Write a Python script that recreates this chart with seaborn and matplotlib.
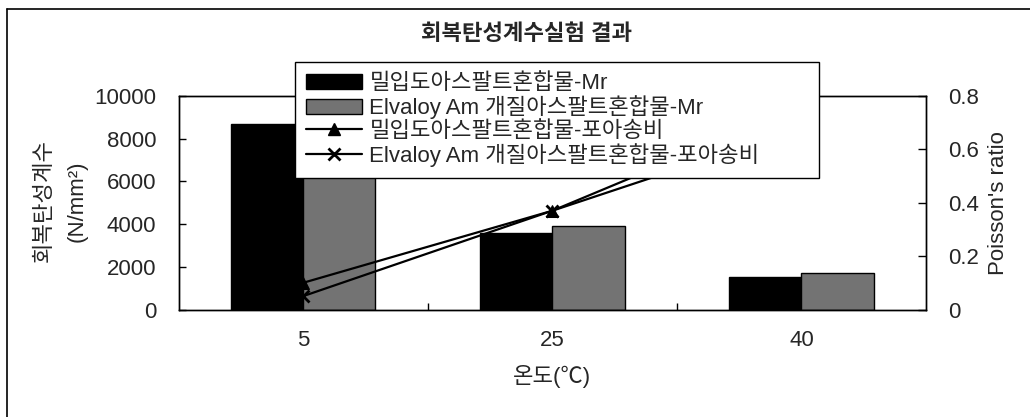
import numpy as np
import pandas as pd
import matplotlib
matplotlib.use("Agg")
import matplotlib.pyplot as plt
from matplotlib.patches import Patch
from matplotlib.lines import Line2D
import seaborn as sns

# ---- data ----
temps = ["5", "25", "40"]
mr_dense = [8700, 3600, 1500]          # 밀입도아스팔트혼합물 resilient modulus (N/mm²)
mr_elvaloy = [9400, 3900, 1700]        # Elvaloy Am 개질아스팔트혼합물 resilient modulus
pr_dense = [0.10, 0.37, 0.68]          # 밀입도 Poisson's ratio
pr_elvaloy = [0.05, 0.37, 0.76]        # Elvaloy Poisson's ratio

series_names = [
    "밀입도아스팔트혼합물-Mr",
    "Elvaloy Am 개질아스팔트혼합물-Mr",
    "밀입도아스팔트혼합물-포아송비",
    "Elvaloy Am 개질아스팔트혼합물-포아송비",
]
left_ticks = [0, 2000, 4000, 6000, 8000, 10000]
left_tick_labels = ["0", "2000", "4000", "6000", "8000", "10000"]
right_ticks = [0, 0.2, 0.4, 0.6, 0.8]
right_tick_labels = ["0", "0.2", "0.4", "0.6", "0.8"]

title = "회복탄성계수실험 결과"
xlabel = "온도(℃)"
ylabel_left = "회복탄성계수\n(N/mm²)"
ylabel_right = "Poisson's ratio"

# ---- style ----
sns.set_style("white")
plt.rcParams["font.family"] = ["Liberation Sans", "Noto Sans CJK KR"]

BLACK = "#000000"
GRAY = "#737373"
W, H = 1030, 417
FS = 16

fig = plt.figure(figsize=(W / 100, H / 100), dpi=100)
fig.patch.set_facecolor("white")

# plot area in pixel coordinates
x0, x1 = 178.5, 926.0
y_top, y_bot = 96.0, 309.5
ax = fig.add_axes([x0 / W, 1 - y_bot / H, (x1 - x0) / W, (y_bot - y_top) / H])

df = pd.DataFrame({
    "temp": temps * 2,
    "mr": mr_dense + mr_elvaloy,
    "series": [series_names[0]] * len(temps) + [series_names[1]] * len(temps),
})
sns.barplot(
    data=df, x="temp", y="mr", hue="series", order=temps,
    hue_order=series_names[:2], palette=[BLACK, GRAY],
    width=0.58, gap=0, edgecolor="black", linewidth=1,
    saturation=1, legend=False, ax=ax,
)

ax.set_ylim(0, 10000)
ax.set_yticks(left_ticks)
ax.set_yticklabels(left_tick_labels)
ax.set_xlabel(xlabel, fontsize=FS, labelpad=10)
ax.set_ylabel(ylabel_left, fontsize=FS, linespacing=1.75)
ax.yaxis.label.set_ha("center")
ax.yaxis.label.set_va("center")
ax.yaxis.set_label_coords((61 - x0) / (x1 - x0), (y_bot - 201) / (y_bot - y_top))

ax.tick_params(axis="y", direction="in", length=5, width=1, color="black",
               labelsize=FS, pad=16, left=True)
ax.tick_params(axis="x", which="major", length=0, labelsize=FS, pad=15)
ax.set_xticks([0.5, 1.5], minor=True)
ax.tick_params(axis="x", which="minor", direction="in", length=5, width=1,
               color="black", bottom=True)
for sp in ax.spines.values():
    sp.set_color("black")
    sp.set_linewidth(1)

# Poisson's ratio on the secondary axis
ax2 = ax.twinx()
xpos = np.arange(len(temps))
sns.lineplot(x=xpos, y=pr_dense, ax=ax2, color="black", linewidth=1.6,
             marker="^", markersize=9, markeredgecolor="black", legend=False)
sns.lineplot(x=xpos, y=pr_elvaloy, ax=ax2, color="black", linewidth=1.6,
             marker="x", markersize=9, markeredgewidth=2,
             markeredgecolor="black", legend=False)
ax2.set_ylim(0, 0.8)
ax2.set_yticks(right_ticks)
ax2.set_yticklabels(right_tick_labels)
ax2.tick_params(axis="y", direction="in", length=6, width=1, color="black",
                labelsize=FS, pad=16, right=True)
ax2.set_ylabel(ylabel_right, fontsize=FS)
ax2.yaxis.label.set_ha("center")
ax2.yaxis.label.set_va("center")
ax2.yaxis.set_label_coords((998 - x0) / (x1 - x0), (y_bot - 203) / (y_bot - y_top))
for sp in ax2.spines.values():
    sp.set_color("black")
    sp.set_linewidth(1)
ax.set_xlim(-0.5, len(temps) - 0.5)

# title
fig.text(527 / W, 1 - 34 / H, title, ha="center", va="center",
         fontsize=FS, fontweight="bold")

# legend
handles = [
    Patch(facecolor=BLACK, edgecolor="black"),
    Patch(facecolor=GRAY, edgecolor="black"),
    Line2D([], [], color="black", linewidth=1.6, marker="^", markersize=9),
    Line2D([], [], color="black", linewidth=1.6, marker="x", markersize=9,
           markeredgewidth=2),
]
leg = fig.legend(
    handles, series_names, loc="upper left",
    bbox_to_anchor=(295 / W, 1 - 172 / H, (819 - 295) / W, (172 - 62) / H),
    mode="expand", borderaxespad=0, fontsize=FS, frameon=True, fancybox=False,
    edgecolor="black", framealpha=1, borderpad=0.5, labelspacing=0.06,
    handlelength=2.5, handletextpad=0.35,
)
leg.get_frame().set_linewidth(1)

# outer chart frame
fig.add_artist(Line2D([7 / W, 7 / W], [0, 1 - 9 / H], color="black", linewidth=1.2,
                      transform=fig.transFigure))
fig.add_artist(Line2D([7 / W, 1], [1 - 9 / H, 1 - 9 / H], color="black", linewidth=1.2,
                      transform=fig.transFigure))

fig.savefig("out.png", dpi=100, facecolor="white")
